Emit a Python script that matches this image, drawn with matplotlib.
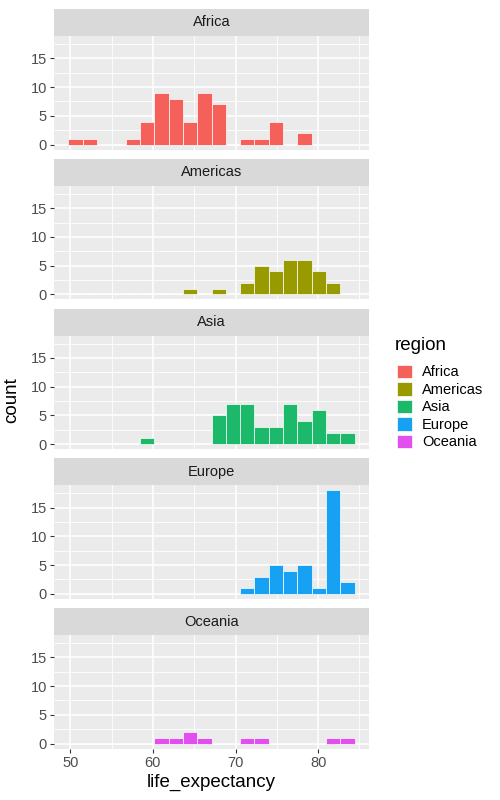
import matplotlib
matplotlib.use("Agg")
import matplotlib.pyplot as plt
from matplotlib.patches import Patch
import numpy as np

plt.rcParams['font.family'] = ['Liberation Sans', 'DejaVu Sans']

# histogram data (20 bins shared by all facets)
regions = ['Africa', 'Americas', 'Asia', 'Europe', 'Oceania']
colors = ['#F5605A', '#989A00', '#1DB96B', '#17A1F2', '#E14FEF']
bin_left = 49.76
bin_width = 1.733
africa = [1, 1, 0, 0, 1, 4, 9, 8, 4, 9, 7, 0, 1, 1, 4, 0, 2, 0, 0, 0]
americas = [0, 0, 0, 0, 0, 0, 0, 0, 1, 0, 1, 0, 2, 5, 4, 6, 6, 4, 2, 0]
asia = [0, 0, 0, 0, 0, 1, 0, 0, 0, 0, 5, 7, 7, 3, 3, 7, 4, 6, 2, 2]
europe = [0, 0, 0, 0, 0, 0, 0, 0, 0, 0, 0, 0, 1, 3, 5, 4, 5, 1, 18, 2]
oceania = [0, 0, 0, 0, 0, 0, 1, 1, 2, 1, 0, 0, 1, 1, 0, 0, 0, 0, 1, 1]
counts = [africa, americas, asia, europe, oceania]
x_ticks = [50, 60, 70, 80]
y_ticks = [0, 5, 10, 15]

W, H = 500, 800
fig = plt.figure(figsize=(5, 8), dpi=100)

centers = bin_left + bin_width * (np.arange(len(africa)) + 0.5)

left = 54 / W
width = (369 - 54) / W
strip_h = 27 / H
panel_h = 113.7 / H
stride = 149.75 / H
top0 = 1 - 9 / H

for i, (reg, col, cnt) in enumerate(zip(regions, colors, counts)):
    strip_top = top0 - i * stride
    panel_top = strip_top - strip_h
    ax = fig.add_axes([left, panel_top - panel_h, width, panel_h])
    ax.set_facecolor('#EBEBEB')
    for s in ax.spines.values():
        s.set_visible(False)
    # minor/major grid
    for v in [55, 65, 75, 85]:
        ax.axvline(v, color='white', lw=0.6, zorder=0)
    for v in [2.5, 7.5, 12.5, 17.5]:
        ax.axhline(v, color='white', lw=0.6, zorder=0)
    for v in x_ticks:
        ax.axvline(v, color='white', lw=1.1, zorder=0)
    for v in y_ticks:
        ax.axhline(v, color='white', lw=1.1, zorder=0)

    ax.bar(centers, cnt, width=bin_width, color=col, edgecolor='white',
           linewidth=0.5, zorder=2)

    ax.set_xlim(48.03, 86.15)
    ax.set_ylim(-0.9, 18.9)
    ax.set_yticks(y_ticks)
    ax.set_xticks(x_ticks)
    ax.tick_params(axis='both', colors='#333333', labelcolor='#4D4D4D',
                   length=3, width=0.8, labelsize=10.5, pad=2)
    if i < len(regions) - 1:
        ax.tick_params(axis='x', length=0, labelbottom=False)

    sax = fig.add_axes([left, panel_top, width, strip_h])
    sax.set_facecolor('#D9D9D9')
    sax.set_xticks([])
    sax.set_yticks([])
    for s in sax.spines.values():
        s.set_visible(False)
    sax.text(0.5, 0.5, reg, ha='center', va='center', fontsize=10.5,
             color='#1A1A1A', transform=sax.transAxes)

fig.text((54 + 369) / 2 / W, 1 - 782 / H, 'life_expectancy', ha='center',
         va='center', fontsize=13.5)
fig.text(12 / W, 1 - 400 / H, 'count', ha='center', va='center',
         rotation=90, fontsize=13.5)

# legend
fig.text(395 / W, 1 - 345 / H, 'region', ha='left', va='center', fontsize=13.5)
handles = [Patch(facecolor=c, edgecolor='white', linewidth=0.5) for c in colors]
fig.legend(handles, regions, loc='upper left',
           bbox_to_anchor=(385 / W, 1 - 353 / H), frameon=False,
           fontsize=10.5, handlelength=1.05, handleheight=1.05,
           labelspacing=0.19, handletextpad=0.7, borderpad=0.3)

fig.savefig('out.png', dpi=100)
